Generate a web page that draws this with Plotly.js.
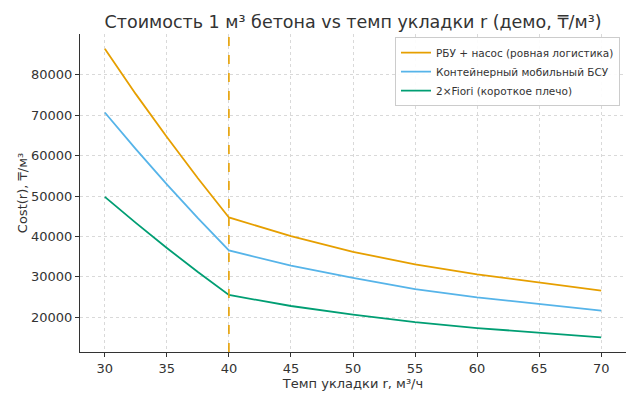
<!DOCTYPE html>
<html>
<head>
<meta charset="utf-8">
<script src="https://cdn.plot.ly/plotly-3.0.1.min.js"></script>
<style>html,body{margin:0;padding:0;background:#fff;}#chart{width:638px;height:398px;}</style>
</head>
<body>
<div id="chart"></div>
<script>
const rates = [30, 32.5, 35, 37.5, 40, 45, 50, 55, 60, 65, 70];
const costRBU = [86400, 75200, 64600, 54400, 44700, 40070, 36200, 33100, 30650, 28600, 26620];
const costMobile = [70650, 61600, 52900, 44530, 36530, 32800, 29730, 27000, 24960, 23230, 21660];
const costFiori = [49800, 43350, 37150, 31200, 25530, 22800, 20670, 18830, 17350, 16110, 15040];
const seriesNames = ["РБУ + насос (ровная логистика)", "Контейнерный мобильный БСУ", "2×Fiori (короткое плечо)"];
const breakRate = 40;
const xTicks = [30, 35, 40, 45, 50, 55, 60, 65, 70];
const yTicks = [20000, 30000, 40000, 50000, 60000, 70000, 80000];

const colors = ["#E69F00", "#56B4E9", "#009E73"];
const font = "DejaVu Sans, sans-serif";
const seriesVals = [costRBU, costMobile, costFiori];
const traces = seriesVals.map((v, i) => ({
  x: rates, y: v, type: "scatter", mode: "lines", name: seriesNames[i],
  line: {color: colors[i], width: 1.8}
}));

const layout = {
  width: 638, height: 398,
  margin: {l: 80, r: 12, t: 34, b: 46},
  paper_bgcolor: "#fff", plot_bgcolor: "#fff",
  font: {family: font, color: "#333", size: 13},
  title: {text: "Стоимость 1 м³ бетона vs темп укладки r (демо, ₸/м³)", font: {family: font, size: 17.5, color: "#333"},
          x: 0.5, xref: "paper", xanchor: "center", y: 0.945, yanchor: "middle"},
  xaxis: {range: [28, 72], tickvals: xTicks, ticks: "outside", ticklen: 4, tickcolor: "#333",
          showline: true, linecolor: "#333", linewidth: 1, mirror: false,
          showgrid: true, gridcolor: "#d9d9d9", griddash: "dot", gridwidth: 1, zeroline: false,
          tickfont: {size: 13, color: "#333"},
          title: {text: "Темп укладки r, м³/ч", font: {size: 13, color: "#333"}, standoff: 3}},
  yaxis: {range: [11425, 90075], tickvals: yTicks, ticks: "outside", ticklen: 4, tickcolor: "#333",
          showline: true, linecolor: "#333", linewidth: 1, mirror: false,
          showgrid: true, gridcolor: "#d9d9d9", griddash: "dot", gridwidth: 1, zeroline: false,
          tickfont: {size: 13, color: "#333"}, tickformat: "d",
          title: {text: "Cost(r), ₸/м³", font: {size: 13, color: "#333"}, standoff: 0}},
  legend: {x: 0.989, y: 0.99, xanchor: "right", yanchor: "top", bgcolor: "rgba(255,255,255,0.9)",
           bordercolor: "#ccc", borderwidth: 1, font: {size: 10.5, color: "#333"}, tracegroupgap: 0},
  shapes: [{type: "line", xref: "x", yref: "paper", x0: breakRate, x1: breakRate, y0: 0, y1: 1,
            line: {color: colors[0], width: 1.6, dash: "dash"}}],
  showlegend: true
};
Plotly.newPlot("chart", traces, layout, {displayModeBar: false, staticPlot: true});
</script>
</body>
</html>
